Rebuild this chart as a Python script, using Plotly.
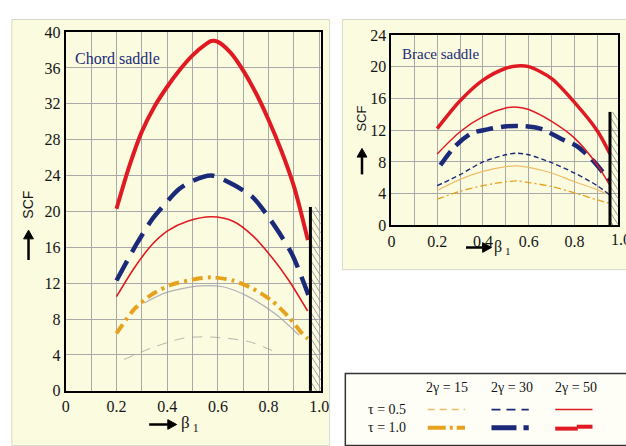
import plotly.graph_objects as go

W, H = 626, 446
def px(x): return x / W
def py(y): return 1 - y / H

# ---------------- data ----------------
chord_t10_g50_beta = [0.2, 0.25, 0.3, 0.35, 0.4, 0.45, 0.5, 0.55, 0.575, 0.6, 0.65, 0.7, 0.75, 0.8, 0.85, 0.9, 0.955]
chord_t10_g50 = [20.3, 25.0, 28.9, 31.7, 33.9, 35.8, 37.4, 38.6, 39.0, 38.9, 37.7, 35.7, 33.2, 30.2, 26.8, 22.8, 16.8]
chord_t10_g30_beta = [0.2, 0.28, 0.34, 0.375, 0.447, 0.5, 0.575, 0.66, 0.737, 0.789, 0.84, 0.893, 0.957]
chord_t10_g30 = [12.3, 16.4, 19.1, 20.3, 22.5, 23.4, 24.0, 23.0, 21.6, 19.8, 17.7, 15.2, 10.7]
chord_t05_g50_beta = [0.2, 0.27, 0.337, 0.4, 0.48, 0.575, 0.66, 0.737, 0.815, 0.88, 0.954]
chord_t05_g50 = [10.5, 13.7, 16.2, 17.8, 18.9, 19.4, 18.9, 17.3, 14.8, 12.3, 8.9]
chord_t10_g15_beta = [0.2, 0.27, 0.337, 0.414, 0.518, 0.575, 0.66, 0.737, 0.815, 0.88, 0.932, 0.955]
chord_t10_g15 = [6.4, 9.1, 10.7, 11.8, 12.5, 12.65, 12.3, 11.4, 10.0, 8.2, 6.4, 5.8]
faint_a_beta = [0.31, 0.4, 0.53, 0.62, 0.72, 0.83, 0.92]
faint_a_vals = [9.8, 11.0, 11.7, 11.6, 10.5, 8.5, 6.2]
faint_b_beta = [0.23, 0.35, 0.47, 0.57, 0.72, 0.83]
faint_b_vals = [3.5, 4.9, 5.9, 6.0, 5.5, 4.3]

brace_beta = [0.2, 0.3, 0.4, 0.5, 0.55, 0.6, 0.7, 0.8, 0.9, 0.955]
brace_t10_g50 = [12.2, 15.7, 18.3, 19.8, 20.1, 20.0, 18.5, 15.5, 11.9, 9.0]
brace_t05_g50 = [9.0, 11.8, 13.7, 14.8, 14.9, 14.6, 13.1, 11.0, 7.6, 5.0]
brace_t10_g30_beta = [0.214, 0.279, 0.35, 0.42, 0.507, 0.579, 0.65, 0.75, 0.81, 0.886, 0.953]
brace_t10_g30 = [7.6, 10.0, 11.6, 12.1, 12.5, 12.5, 12.2, 10.8, 10.0, 8.0, 5.6]
brace_t05_g30 = [5.0, 6.4, 8.0, 8.9, 9.1, 8.9, 7.9, 6.6, 5.0, 3.8]
brace_os_beta = [0.2, 0.3, 0.4, 0.5, 0.55, 0.6, 0.7, 0.8, 0.9, 0.935]
brace_orange_solid = [4.4, 5.8, 6.8, 7.4, 7.5, 7.3, 6.6, 5.5, 4.5, 4.0]
brace_orange_dashdot = [3.3, 4.3, 5.0, 5.5, 5.6, 5.4, 4.9, 4.1, 3.2, 2.75]

chord_wall = 0.965
chord_wall_top = 20.5
brace_wall = 0.955
brace_wall_top = 14.3

x_ticks = [0, 0.2, 0.4, 0.6, 0.8, 1.0]
x_ticktext = ["0", "0.2", "0.4", "0.6", "0.8", "1.0"]
brace_x_ticks = [0, 0.2, 0.4, 0.6, 0.8]
brace_x_ticktext = ["0", "0.2", "0.4", "0.6", "0.8"]
chord_y_ticks = list(range(0, 41, 4))
brace_y_ticks = list(range(0, 25, 4))

legend_cols = ["2γ = 15", "2γ = 30", "2γ = 50"]
legend_rows = ["τ = 0.5", "τ = 1.0"]

RED = "#E01A22"
NAVY = "#1B2A78"
ORANGE = "#E6A21E"
LORANGE = "#EDBE6A"

# axis geometry (pixels)
CH = dict(x0=63, x1=323, xr=1.006, y0=398, y1=25, yr=40)
BR = dict(x0=395, x1=626, xr=0.99, y0=226, y1=28, yr=24)
def to_px(g, b, v):
    return (g["x0"] + (g["x1"] - g["x0"]) * b / g["xr"], g["y0"] - (g["y0"] - g["y1"]) * v / g["yr"])

fig = go.Figure()

def line(x, y, color, width, dash="solid", xa="x", ya="y", opacity=1.0):
    fig.add_trace(go.Scatter(x=x, y=y, mode="lines", xaxis=xa, yaxis=ya,
                             line=dict(color=color, width=width, dash=dash, shape="spline", smoothing=0.8),
                             opacity=opacity, showlegend=False, hoverinfo="skip"))

shapes = [
    dict(type="rect", xref="paper", yref="paper", x0=px(8), x1=px(332), y0=-0.02, y1=py(12),
         fillcolor="#fbfbdf", line=dict(color="#d8d8c8", width=1), layer="below"),
    dict(type="rect", xref="paper", yref="paper", x0=px(345), x1=1.02, y0=py(272), y1=py(12),
         fillcolor="#fbfbdf", line=dict(color="#d8d8c8", width=1), layer="below"),
    dict(type="rect", xref="paper", yref="paper", x0=px(348), x1=1.02, y0=-0.02, y1=py(380),
         fillcolor="#fefef6", line=dict(color="#333333", width=1.5), layer="below"),
]

def hatch(g, wall, top):
    xl, yt = to_px(g, wall, top)
    xr, yb = to_px(g, g["xr"], 0)
    k = 1.6
    c = yt - k * xr
    while c < yb - k * xl:
        xa = max(xl, (yt - c) / k)
        xb = min(xr, (yb - c) / k)
        if xb > xa:
            shapes.append(dict(type="line", xref="paper", yref="paper",
                               x0=px(xa), y0=py(c + k * xa), x1=px(xb), y1=py(c + k * xb),
                               line=dict(color="#8a8a8a", width=0.8)))
        c += 9
    shapes.append(dict(type="line", xref="paper", yref="paper", x0=px(xl), x1=px(xl),
                       y0=py(yb), y1=py(yt), line=dict(color="black", width=3)))

hatch(CH, chord_wall, chord_wall_top)
hatch(BR, brace_wall, brace_wall_top)

# chord saddle
line(faint_b_beta, faint_b_vals, "#9a9a9a", 1, "10px,8px", opacity=0.7)
line(faint_a_beta, faint_a_vals, "#a0a0b0", 1.2, opacity=0.8)
line(chord_t10_g15_beta, chord_t10_g15, ORANGE, 4, "11px,5px,3px,5px")
line(chord_t05_g50_beta, chord_t05_g50, RED, 1.6)
line(chord_t10_g30_beta, chord_t10_g30, NAVY, 4.5, "22px,10px")
line(chord_t10_g50_beta, chord_t10_g50, RED, 4)

# brace saddle
line(brace_beta, brace_orange_dashdot, ORANGE, 1.3, "7px,3px,2px,3px", "x2", "y2")
line(brace_os_beta, brace_orange_solid, LORANGE, 1.2, "solid", "x2", "y2")
line(brace_beta, brace_t05_g30, NAVY, 1.4, "5px,3px", "x2", "y2")
line(brace_t10_g30_beta, brace_t10_g30, NAVY, 4.5, "17px,8px", "x2", "y2")
line(brace_beta, brace_t05_g50, RED, 1.5, "solid", "x2", "y2")
line(brace_beta, brace_t10_g50, RED, 3.5, "solid", "x2", "y2")

tickfont = dict(family="Liberation Serif", size=16, color="#151515")
grid = dict(showgrid=True, gridcolor="#a9a9a9", gridwidth=1, zeroline=False,
            showline=True, linecolor="black", linewidth=2, mirror=True, ticks="",
            tickfont=tickfont)

fig.update_layout(
    width=W, height=H, margin=dict(l=0, r=0, t=0, b=0),
    paper_bgcolor="white", plot_bgcolor="#f6f6f4",
    xaxis=dict(domain=[px(CH["x0"]), px(CH["x1"])], range=[0, CH["xr"]], tickvals=x_ticks, ticktext=x_ticktext,
               minor=dict(dtick=0.1, tick0=0, showgrid=True, gridcolor="#a9a9a9", gridwidth=1),
               anchor="y", **grid),
    yaxis=dict(domain=[py(CH["y0"]), py(CH["y1"])], range=[0, CH["yr"]], tickvals=chord_y_ticks, anchor="x", **grid),
    xaxis2=dict(domain=[px(BR["x0"]), 1.0], range=[0, BR["xr"]], tickvals=brace_x_ticks, ticktext=brace_x_ticktext,
                minor=dict(dtick=0.1, tick0=0, showgrid=True, gridcolor="#a9a9a9", gridwidth=1),
                anchor="y2", **grid),
    yaxis2=dict(domain=[py(BR["y0"]), py(BR["y1"])], range=[0, BR["yr"]], tickvals=brace_y_ticks, anchor="x2", **grid),
)

# legend samples
cols_x = [(432, 470), (497, 535), (562, 600)]
row_y = [417.5, 436.5]
samples = [
    [(LORANGE, 1.5, "7px,5px"), (NAVY, 1.6, "9px,6px"), (RED, 1.5, "solid")],
    [(ORANGE, 4, "18px,4px,3px,4px"), (NAVY, 5, "25px,7px,8px,7px"), None],
]
for r, row in enumerate(samples):
    for c, s in enumerate(row):
        x0, x1 = cols_x[c]
        if s is None:
            shapes.append(dict(type="line", xref="paper", yref="paper", x0=px(562), x1=px(585),
                               y0=py(437.3), y1=py(437.3), line=dict(color=RED, width=4)))
            shapes.append(dict(type="line", xref="paper", yref="paper", x0=px(584), x1=px(600),
                               y0=py(435.3), y1=py(435.3), line=dict(color=RED, width=4)))
            continue
        color, w, dash = s
        shapes.append(dict(type="line", xref="paper", yref="paper", x0=px(x0), x1=px(x1),
                           y0=py(row_y[r]), y1=py(row_y[r]), line=dict(color=color, width=w, dash=dash)))

def arrow(xt, yt, xh, yh):
    dx, dy = xh - xt, yh - yt
    L = (dx * dx + dy * dy) ** 0.5
    ux, uy = dx / L, dy / L
    hl, hw = 9, 5
    bx, by = xh - ux * hl, yh - uy * hl
    shapes.append(dict(type="line", xref="paper", yref="paper", x0=px(xt), y0=py(yt), x1=px(bx), y1=py(by),
                       line=dict(color="black", width=2.5)))
    p1 = (bx - uy * hw, by + ux * hw)
    p2 = (bx + uy * hw, by - ux * hw)
    path = "M %f %f L %f %f L %f %f Z" % (px(xh), py(yh), px(p1[0]), py(p1[1]), px(p2[0]), py(p2[1]))
    shapes.append(dict(type="path", xref="paper", yref="paper", path=path,
                       fillcolor="black", line=dict(color="black", width=1)))

arrow(25, 262, 25, 231)
arrow(365, 173, 365, 146)
arrow(148, 433, 176, 433)
arrow(471, 249, 497, 249)
fig.update_layout(shapes=shapes)

serif = "Liberation Serif"
ann = []
def text(x, y, t, size=15, color="#151515", family=serif, angle=0, xanchor="center"):
    ann.append(dict(x=px(x), y=py(y), xref="paper", yref="paper", text=t, showarrow=False,
                    font=dict(family=family, size=size, color=color), textangle=angle,
                    xanchor=xanchor, yanchor="middle"))

text(70, 52, "Chord saddle", 16, NAVY, xanchor="left")
text(404, 48, "Brace saddle", 15, NAVY, xanchor="left")
text(25, 205, "SCF", 14, family="Liberation Sans", angle=-90)
text(365, 115, "SCF", 13, family="Liberation Sans", angle=-90)
text(190, 433, "β<sub> 1</sub>", 17)
text(508, 249, "β<sub> 1</sub>", 16)
text(629, 241, "1.0", 16)

for c, lab in enumerate(legend_cols):
    text([452, 518, 583][c], 395, lab, 14)
for r, lab in enumerate(legend_rows):
    text(390, row_y[r], lab, 14)

fig.update_layout(annotations=ann)
fig.write_html("out.html")
